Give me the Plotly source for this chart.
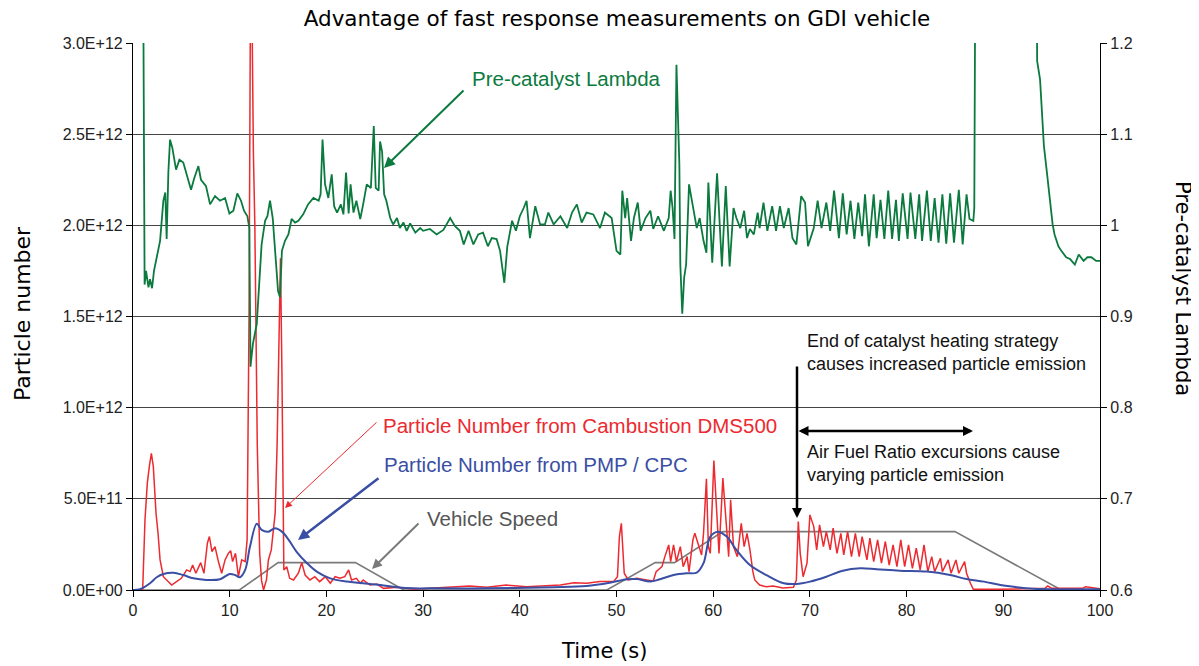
import plotly.graph_objects as go

# ---------------- data ----------------
# Pre-catalyst lambda (right axis)
lambda_t = [1.0, 1.2, 1.35, 1.6, 1.76, 1.97, 2.17, 2.45, 2.8, 3.14, 3.34, 3.48, 3.66, 3.83, 4.07, 4.45, 4.8, 5.2,
            5.55, 6.0, 6.34, 6.76, 7.03, 7.55, 7.97, 8.48, 9.0, 9.52, 9.97, 10.38, 10.79, 11.17, 11.48, 11.83, 12.03,
            12.15, 12.4, 12.8, 13.3, 13.66, 13.9, 14.17, 14.45, 14.72, 15.0, 15.2, 15.4, 15.72, 16.07, 16.4, 16.76,
            17.1, 17.6, 18.1, 18.66, 19.2, 19.4, 19.6, 19.86, 20.2, 20.55, 20.8, 21.1, 21.5, 21.76, 22.03, 22.3, 22.5,
            22.8, 23.1, 23.5, 23.8, 24.17, 24.6, 24.9, 25.1, 25.4, 25.55, 25.76, 25.97, 26.2, 26.6, 26.9, 27.3, 27.6,
            27.97, 28.3, 28.66, 29.2, 29.7, 30.0, 30.7, 31.4, 32.1, 32.8, 33.3, 33.8, 34.2, 34.7, 35.2, 35.7, 36.2,
            36.7, 37.1, 37.6, 37.96, 38.4, 38.7, 39.2, 39.6, 40.0, 40.4, 40.7, 41.05, 41.6, 42.1, 42.6, 42.95, 43.5,
            44.2, 44.9, 45.4, 45.9, 46.4, 46.9, 47.6, 48.3, 48.8, 49.5, 50.0, 50.4, 50.6, 50.9, 51.1, 51.5, 51.8,
            52.2, 52.5, 53.0, 53.5, 53.8, 54.3, 54.9, 55.4, 55.6, 55.8, 56.0, 56.2, 56.3, 56.5, 56.6, 56.8, 57.0,
            57.2, 57.5, 57.9, 58.3, 58.6, 59.0, 59.3, 59.5, 59.9, 60.4, 60.9, 61.3, 61.7, 62.1, 62.4, 62.8, 63.2,
            63.5, 63.8, 64.2, 64.6, 64.8, 65.2, 65.6, 66.1, 66.5, 66.9, 67.3, 67.8, 68.2, 68.6, 69.1, 69.5, 69.8,
            70.4, 70.8, 71.2, 71.7, 72.1, 72.5, 73.0, 73.4, 73.8, 74.2, 74.6, 75.0, 75.4, 75.7, 76.1, 76.6, 76.9,
            77.3, 77.7, 78.1, 78.5, 78.9, 79.2, 79.6, 80.1, 80.4, 80.9, 81.3, 81.6, 82.1, 82.5, 82.9, 83.3, 83.7,
            84.1, 84.5, 84.9, 85.4, 85.8, 86.2, 86.5, 86.9, 87.0, 87.15, 93.4, 93.5, 93.8, 93.97, 94.2, 94.5, 94.8,
            95.1, 95.3, 95.7, 96.0, 96.5, 96.9, 97.4, 97.8, 98.3, 98.7, 99.1, 99.6, 100.0]
lambda_v = [1.40, 0.935, 0.950, 0.932, 0.941, 0.931, 0.950, 0.965, 0.983, 1.027, 1.036, 0.985, 1.059, 1.094, 1.085,
            1.061, 1.072, 1.069, 1.056, 1.039, 1.052, 1.065, 1.050, 1.043, 1.023, 1.032, 1.027, 1.030, 1.013, 1.016,
            1.035, 1.027, 1.016, 1.010, 0.997, 0.845, 0.870, 0.892, 0.979, 1.005, 1.010, 1.027, 1.008, 0.972, 0.928,
            0.921, 0.972, 0.983, 0.990, 1.007, 1.003, 1.005, 1.012, 1.023, 1.030, 1.027, 1.034, 1.094, 1.045, 1.030,
            1.056, 1.021, 1.014, 1.023, 1.012, 1.058, 1.013, 1.045, 1.014, 1.027, 1.007, 1.023, 1.045, 1.041, 1.109,
            1.041, 1.038, 1.092, 1.081, 1.034, 1.027, 1.008, 1.001, 1.008, 0.997, 1.003, 0.994, 1.002, 0.992, 0.997,
            0.994, 0.996, 0.990, 0.995, 1.008, 0.999, 0.994, 0.979, 0.994, 0.979, 0.990, 0.992, 0.977, 0.986, 0.985,
            0.972, 0.937, 0.976, 1.005, 0.994, 1.010, 1.019, 1.027, 0.986, 1.021, 1.001, 1.001, 1.014, 1.001, 1.010,
            0.997, 1.014, 1.023, 1.003, 1.014, 1.012, 0.997, 1.014, 1.008, 0.972, 0.968, 1.038, 1.008, 1.030, 0.983,
            1.008, 1.025, 0.994, 1.008, 1.016, 0.996, 1.010, 0.994, 1.008, 1.038, 1.019, 0.985, 1.176, 1.147, 1.067,
            0.957, 0.903, 0.943, 0.957, 1.045, 1.019, 0.997, 1.008, 0.983, 0.970, 1.047, 0.959, 1.057, 0.955, 1.043,
            0.955, 1.019, 1.008, 0.997, 1.016, 0.986, 0.996, 0.990, 1.014, 0.997, 1.025, 0.994, 1.021, 0.994, 1.021,
            0.997, 1.019, 0.986, 0.979, 1.032, 1.025, 0.977, 0.997, 1.027, 0.997, 1.025, 0.994, 1.038, 0.986, 1.035,
            0.990, 1.027, 0.985, 1.025, 0.988, 1.034, 0.977, 1.034, 0.986, 1.028, 0.985, 1.038, 0.985, 1.028, 0.983,
            1.035, 0.985, 1.036, 0.985, 1.034, 0.983, 1.038, 0.983, 1.030, 0.981, 1.034, 0.980, 1.035, 0.981, 1.039,
            0.979, 1.034, 1.007, 1.005, 1.019, 1.40, 1.40, 1.18, 1.160, 1.129, 1.087, 1.059, 1.030, 1.001, 0.990,
            0.977, 0.972, 0.965, 0.963, 0.957, 0.968, 0.961, 0.965, 0.965, 0.961, 0.961]

# Particle number from Cambustion DMS500 (units of 1E+11)
dms_t = [0, 1.0, 1.24, 1.48, 1.69, 1.9, 2.1, 2.38, 2.59, 2.8, 3.14, 3.66, 4.0, 4.5, 5.0, 5.55, 5.9, 6.17, 6.5, 7.0,
         7.34, 7.69, 7.9, 8.17, 8.48, 8.83, 9.17, 9.52, 9.86, 10.1, 10.3, 10.6, 10.9, 11.24, 11.6, 11.8, 12.0, 12.15,
         12.3, 12.45, 12.6, 12.85, 13.1, 13.3, 13.5, 13.8, 14.0, 14.3, 14.7, 14.9, 15.1, 15.25, 15.4, 15.6, 15.9,
         16.2, 16.6, 17.1, 17.45, 17.8, 18.3, 18.8, 19.3, 19.9, 20.4, 20.9, 21.4, 21.9, 22.3, 22.6, 23.1, 23.5,
         23.8, 24.5, 25.2, 25.9, 27.3, 29.0, 30.7, 33.1, 34.8, 36.6, 38.6, 40.7, 42.8, 44.2, 45.6, 46.9, 48.3,
         49.7, 50.1, 50.3, 50.5, 50.6, 50.8, 51.2, 52.1, 53.1, 53.8, 54.1, 54.7, 55.0, 55.4, 55.6, 55.9, 56.2,
         56.6, 56.9, 57.3, 57.5, 57.9, 58.1, 58.5, 58.8, 59.0, 59.3, 59.5, 59.7, 60.07, 60.35, 60.6, 61.0, 61.3,
         61.6, 61.8, 62.1, 62.5, 62.9, 63.2, 63.5, 63.8, 64.1, 64.3, 64.8, 65.5, 66.2, 67.2, 68.3, 68.6, 68.8,
         69.0, 69.3, 69.7, 70.0, 70.4, 70.7, 71.0, 71.4, 71.7, 72.1, 72.4, 72.8, 73.2, 73.5, 73.9, 74.3, 74.7,
         75.1, 75.4, 75.9, 76.2, 76.6, 77.0, 77.4, 77.8, 78.2, 78.6, 79.0, 79.4, 79.8, 80.2, 80.6, 81.0, 81.4,
         81.8, 82.2, 82.6, 82.9, 83.5, 83.7, 84.3, 84.6, 85.1, 85.4, 86.0, 86.2, 86.6, 86.9, 89.7, 93.1, 94.3,
         94.6, 95.0, 98.2, 98.5, 100.0]
dms_e11 = [0, 0, 3.85, 5.86, 6.78, 7.5, 6.78, 4.21, 3.11, 1.65, 0.73, 0.46, 0.27, 0.46, 0.64, 1.10, 1.01, 1.37, 0.92,
           1.50, 0.92, 2.56, 2.93, 2.11, 2.38, 1.56, 0.92, 1.65, 2.01, 2.16, 1.56, 2.01, 0.73, 1.65, 1.56, 2.75, 15.0,
           33.0, 32.0, 24.0, 20.0, 8.0, 2.0, 0.5, 0.0, 0.55, 1.65, 2.2, 4.2, 7.9, 14.0, 18.2, 12.0, 1.10, 1.28, 0.64,
           0.55, 0.92, 1.5, 0.82, 0.55, 0.73, 0.46, 0.73, 0.37, 0.73, 0.64, 0.73, 1.10, 0.55, 0.64, 0.37, 0.55, 0.27,
           0.33, 0.09, 0.15, 0.05, 0.09, 0.15, 0.22, 0.15, 0.27, 0.18, 0.22, 0.27, 0.40, 0.37, 0.46, 0.46, 0.73,
           2.93, 3.66, 2.75, 0.92, 0.55, 0.64, 0.55, 0.49, 1.01, 1.28, 1.83, 2.47, 1.56, 2.47, 1.56, 2.38, 1.28,
           1.83, 1.01, 2.75, 3.11, 2.38, 1.92, 3.11, 6.1, 2.38, 2.01, 7.1, 4.58, 2.01, 6.14, 3.85, 1.83, 4.95, 2.38,
           1.83, 3.66, 2.38, 3.11, 2.2, 1.01, 0.55, 0.27, 0.18, 0.22, 0.11, 0.15, 0.55, 3.75, 2.01, 0.73, 1.47,
           4.12, 3.48, 2.2, 3.57, 2.38, 3.2, 2.2, 3.39, 2.01, 3.11, 1.92, 3.2, 1.83, 3.11, 1.83, 2.93, 1.65, 2.84,
           1.56, 2.75, 1.47, 2.66, 1.37, 2.47, 1.28, 2.75, 1.28, 2.47, 1.19, 2.29, 1.10, 2.47, 1.01, 1.83, 1.01,
           1.74, 1.01, 1.65, 0.92, 1.65, 0.92, 1.56, 0.92, 0.37, 0.04, 0.04, 0.05, 0.09, 0.22, 0.09, 0.09, 0.18,
           0.07]

# Particle number from PMP / CPC (units of 1E+11)
pmp_t = [0, 0.72, 1.76, 2.45, 3.14, 4.17, 5.2, 6.24, 7.6, 9.0, 10.0, 10.55, 11.07, 11.6, 12.1, 12.8, 13.3, 14.0,
         14.7, 15.4, 16.1, 16.9, 18.0, 19.0, 20.4, 22.1, 23.8, 25.6, 27.3, 29.0, 30.7, 36.6, 43.5, 46.9, 49.3,
         51.1, 52.1, 53.5, 54.5, 55.9, 57.3, 58.3, 59.0, 59.7, 60.5, 61.4, 62.4, 63.8, 65.5, 67.3, 68.6, 70.0,
         71.7, 73.4, 75.2, 76.9, 79.3, 82.1, 84.5, 86.2, 88.0, 89.7, 91.4, 93.1, 96.5, 100.0]
pmp_e11 = [0, 0.04, 0.37, 0.70, 0.88, 0.95, 0.82, 0.64, 0.55, 0.59, 0.88, 0.82, 0.70, 1.10, 2.38, 3.63, 3.30, 3.20,
           3.39, 3.20, 2.75, 2.11, 1.47, 1.01, 0.64, 0.46, 0.37, 0.27, 0.15, 0.09, 0.09, 0.09, 0.15, 0.22, 0.40,
           0.59, 0.60, 0.46, 0.59, 0.82, 0.92, 0.95, 1.47, 2.93, 3.2, 2.93, 2.2, 1.37, 0.82, 0.37, 0.33, 0.46,
           0.73, 1.06, 1.19, 1.14, 1.06, 1.01, 0.82, 0.60, 0.46, 0.27, 0.15, 0.07, 0.04, 0.04]

# Vehicle speed (km/h, NEDC urban cycle), drawn scaled onto the particle axis
speed_t = [0, 11, 15, 23, 28, 49, 54, 56, 61, 85, 96, 100]
speed_kmh = [0, 0, 15, 15, 0, 0, 15, 15, 32, 32, 0, 0]
speed_display_scale = 1e10

# Axis ticks
left_tickvals = [0, 5e11, 1e12, 1.5e12, 2e12, 2.5e12, 3e12]
left_ticktext = ["0.0E+00", "5.0E+11", "1.0E+12", "1.5E+12", "2.0E+12", "2.5E+12", "3.0E+12"]

# ---------------- colours / fonts ----------------
GREEN = "#0b7a3e"
RED = "#ec2a2f"
BLUE = "#3a4ea4"
GRAY = "#7a7a7a"
TICKFONT = "Liberation Sans, Arial, sans-serif"
TITLEFONT = "DejaVu Sans, Open Sans, sans-serif"

fig = go.Figure()
fig.add_trace(go.Scatter(x=speed_t, y=[s * speed_display_scale for s in speed_kmh], mode="lines",
                         line=dict(color=GRAY, width=1.6), name="Vehicle Speed", yaxis="y"))
fig.add_trace(go.Scatter(x=dms_t, y=[v * 1e11 for v in dms_e11], mode="lines",
                         line=dict(color=RED, width=1.5), name="DMS500", yaxis="y"))
fig.add_trace(go.Scatter(x=pmp_t, y=[v * 1e11 for v in pmp_e11], mode="lines", line_shape="spline",
                         line=dict(color=BLUE, width=2), name="PMP / CPC", yaxis="y"))
fig.add_trace(go.Scatter(x=lambda_t, y=lambda_v, mode="lines",
                         line=dict(color=GREEN, width=1.8), name="Lambda", yaxis="y2"))

# The page body adds an 8px offset; work in screen pixels and compensate.
OFF = 8
SW, SH = 1199, 666
W, H = SW - OFF, SH - OFF
PL, PT, PR, PB = 133, 43, 1100, 590      # plot area in screen pixels
PW, PH = PR - PL, PB - PT
L, T = PL - OFF, PT - OFF
R, B = W - L - PW, H - T - PH


def px(xs):
    return (xs - PL) / PW


def py(ys):
    return (PB - ys) / PH


annotations = []


def arrow(x0, y0, x1, y1, color, width, head=2, size=1.0, both=False):
    annotations.append(dict(x=px(x1), y=py(y1), xref="paper", yref="paper", text="", showarrow=True,
                            ax=x0 - x1, ay=y0 - y1, axref="pixel", ayref="pixel", arrowcolor=color,
                            arrowwidth=width, arrowhead=head, arrowsize=size, standoff=0, startstandoff=0,
                            arrowside="end+start" if both else "end", startarrowhead=head, startarrowsize=size))


def label(x0, yc, text, color, size, font=TICKFONT, align="left"):
    annotations.append(dict(x=px(x0), y=py(yc), xref="paper", yref="paper", text=text, showarrow=False,
                            xanchor="left", yanchor="middle", align=align,
                            font=dict(family=font, size=size, color=color)))


label(470, 79, "Pre-catalyst Lambda", GREEN, 20.5)
arrow(465, 89, 384, 168, GREEN, 2, head=2, size=1.1)
label(381, 425, "Particle Number from Cambustion DMS500", RED, 20.5)
arrow(378, 421, 285, 508, RED, 1, head=2, size=1.4)
label(382, 465, "Particle Number from PMP / CPC", BLUE, 20.5)
arrow(380, 477, 298, 540, BLUE, 2.5, head=2, size=0.9)
label(425, 518, "Vehicle Speed", "#555555", 20.5)
arrow(420, 522, 372, 569, GRAY, 2, head=2, size=1.0)
label(805, 352, "End of catalyst heating strategy<br>causes increased particle emission", "#111111", 18)
arrow(797, 365, 797, 518, "#000000", 2.5, head=2, size=0.8)
arrow(797, 431, 973, 431, "#000000", 2.5, head=2, size=0.8, both=True)
label(805, 463, "Air Fuel Ratio excursions cause<br>varying particle emission", "#111111", 18)

# axis titles
annotations.append(dict(x=px(604), y=py(651), xref="paper", yref="paper", text="Time (s)", showarrow=False,
                        xanchor="center", yanchor="middle", font=dict(family=TITLEFONT, size=21, color="#000")))
annotations.append(dict(x=px(22), y=py(314), xref="paper", yref="paper", text="Particle number", showarrow=False,
                        textangle=-90, xanchor="center", yanchor="middle",
                        font=dict(family=TITLEFONT, size=22, color="#000")))
annotations.append(dict(x=px(1183), y=py(288), xref="paper", yref="paper", text="Pre-catalyst Lambda",
                        showarrow=False, textangle=90, xanchor="center", yanchor="middle",
                        font=dict(family=TITLEFONT, size=21, color="#000")))

fig.update_layout(
    width=W, height=H,
    margin=dict(l=L, r=R, t=T, b=B, autoexpand=False),
    paper_bgcolor="white", plot_bgcolor="white",
    showlegend=False,
    title=dict(text="Advantage of fast response measurements on GDI vehicle", x=(617 - OFF) / W,
               xanchor="center", y=1.0 - 3 / H, yanchor="top", pad=dict(t=0, b=0),
               font=dict(family=TITLEFONT, size=21.5, color="#000")),
    xaxis=dict(range=[0, 100], dtick=10, tick0=0, showgrid=False, zeroline=False, showline=True,
               linecolor="#000", linewidth=1.2, ticks="outside", ticklen=6, tickcolor="#000",
               tickfont=dict(family=TICKFONT, size=16, color="#222")),
    yaxis=dict(range=[0, 3e12], tickvals=left_tickvals, ticktext=left_ticktext, showgrid=True,
               gridcolor="#444444", gridwidth=1, zeroline=False, showline=True, linecolor="#000",
               linewidth=1.2, ticks="outside", ticklen=6, tickcolor="#000",
               tickfont=dict(family=TICKFONT, size=16, color="#222")),
    yaxis2=dict(range=[0.6, 1.2], dtick=0.1, tick0=0.6, overlaying="y", side="right", showgrid=False,
                zeroline=False, showline=True, linecolor="#000", linewidth=1.2, ticks="outside", ticklen=6,
                tickcolor="#000", tickfont=dict(family=TICKFONT, size=16, color="#222")),
    annotations=annotations,
)

fig.write_html("out.html")
